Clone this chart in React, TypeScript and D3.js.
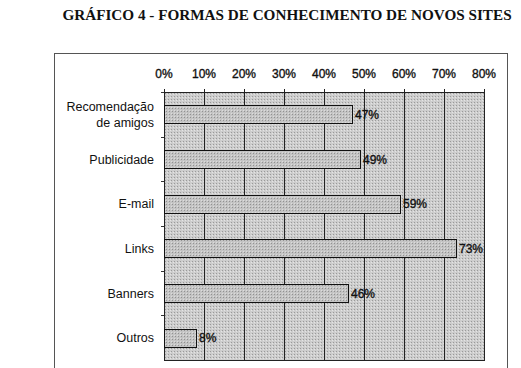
import React from "react";
import * as d3 from "d3";

const categories = ["Recomendação\nde amigos", "Publicidade", "E-mail", "Links", "Banners", "Outros"];
const values = [47, 49, 59, 73, 46, 8];
const xTicks = [0, 10, 20, 30, 40, 50, 60, 70, 80];
const title = "GRÁFICO 4 - FORMAS DE CONHECIMENTO DE NOVOS SITES";

export default function App() {
  const W = 521, H = 368;
  const left = 164, right = 484, top = 92, bottom = 360;
  const x = d3.scaleLinear().domain([0, 80]).range([left, right]);
  const y = d3.scaleBand().domain(categories).range([top, bottom]).paddingInner(0.6).paddingOuter(0.3);
  const yb = d3.scaleBand().domain(categories).range([top, bottom]);
  const font = "Arial, 'Liberation Sans', sans-serif";
  return (
    <svg width={W} height={H} style={{ position: "absolute", left: 0, top: 0 }} xmlns="http://www.w3.org/2000/svg">
      <defs>
        <pattern id="dots" width="3" height="3" patternUnits="userSpaceOnUse">
          <rect width="3" height="3" fill="#cdcdcd" />
          <rect x="0" y="0" width="1" height="1" fill="#9a9a9a" />
          <rect x="2" y="1" width="1" height="1" fill="#e4e4e4" />
        </pattern>
        <pattern id="dots2" width="3" height="3" patternUnits="userSpaceOnUse">
          <rect width="3" height="3" fill="#c4c4c4" />
          <rect x="1" y="0" width="1" height="1" fill="#929292" />
          <rect x="0" y="2" width="1" height="1" fill="#dcdcdc" />
        </pattern>
      </defs>
      <rect width={W} height={H} fill="#fff" />
      <text x={287} y={20} textAnchor="middle" fontFamily="'Liberation Serif', 'Times New Roman', serif" fontWeight="bold" fontSize={15.2} fill="#111">{title}</text>
      <rect x={54.5} y={53.5} width={453} height={330} fill="none" stroke="#555" strokeWidth={1} />
      <rect x={left} y={top} width={right - left} height={bottom - top} fill="url(#dots)" />
      {xTicks.map(t => (
        <g key={t}>
          <line x1={x(t) + 0.5} x2={x(t) + 0.5} y1={top - 3} y2={bottom} stroke="#222" strokeWidth={1} />
          <text x={x(t)} y={78} textAnchor="middle" fontFamily={font} fontSize={12} fill="#111" stroke="#111" strokeWidth={0.35}>{t}%</text>
        </g>
      ))}
      <line x1={left} x2={right} y1={top + 0.5} y2={top + 0.5} stroke="#222" />
      <line x1={left} x2={right + 1} y1={bottom + 0.5} y2={bottom + 0.5} stroke="#222" />
      {categories.map((c, i) => (
        <line key={"t" + i} x1={left - 3} x2={left} y1={Math.round(yb(c)!) + 0.5} y2={Math.round(yb(c)!) + 0.5} stroke="#333" />
      ))}
      {categories.map((c, i) => (
        <g key={c}>
          <rect x={x(0) + 0.5} y={Math.round(y(c)!) + 0.5} width={x(values[i]) - x(0)} height={Math.round(y.bandwidth())} fill="url(#dots2)" stroke="#111" strokeWidth={1} />
          <text x={x(values[i]) + 3} y={y(c)! + y.bandwidth() / 2 + 4.5} fontFamily={font} fontSize={12} fill="#111" stroke="#111" strokeWidth={0.35}>{values[i]}%</text>
          {c.split("\n").map((line, j, arr) => (
            <text key={j} x={154} y={yb(c)! + yb.bandwidth() / 2 + 4.5 + (j - (arr.length - 1) / 2) * 16} textAnchor="end" fontFamily={font} fontSize={12.5} fill="#111">{line}</text>
          ))}
        </g>
      ))}
    </svg>
  );
}
